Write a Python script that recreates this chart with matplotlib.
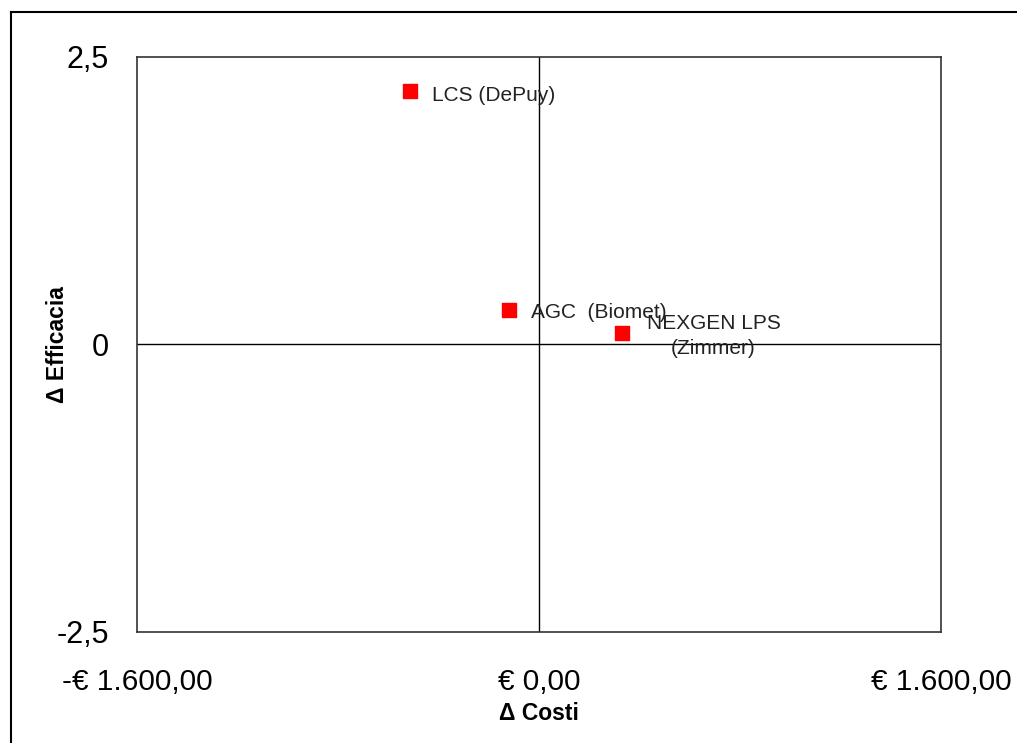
import matplotlib

matplotlib.use("Agg")
import matplotlib.pyplot as plt
from matplotlib.lines import Line2D

plt.rcParams["font.family"] = ["Liberation Sans", "DejaVu Sans"]

# data
devices = ["LCS (DePuy)", "AGC  (Biomet)", "NEXGEN LPS\n(Zimmer)"]
delta_cost = [-513, -120, 330]
delta_efficacy = [2.2, 0.3, 0.1]

x_ticks = [-1600, 0, 1600]
x_tick_labels = ["-€ 1.600,00", "€ 0,00", "€ 1.600,00"]
y_ticks = [-2.5, 0, 2.5]
y_tick_labels = ["-2,5", "0", "2,5"]

fig = plt.figure(figsize=(10.17, 7.43), dpi=100)
ax = fig.add_axes([0.1347, 0.1494, 0.7906, 0.7739])

ax.axhline(0, color="black", lw=1)
ax.axvline(0, color="black", lw=1)
ax.scatter(delta_cost, delta_efficacy, marker="s", s=95, color="#ff0000", zorder=3)

# label offsets in points, mimicking the original placement
offsets = [(16, -3, "left"), (16, -2, "left"), (66, -2, "center")]
for name, x, y, (dx, dy, ha) in zip(devices, delta_cost, delta_efficacy, offsets):
    ax.annotate(name, (x, y), xytext=(dx, dy), textcoords="offset points",
                ha=ha, va="center", fontsize=15, color="#222222", linespacing=1.4)

ax.set_xlim(-1600, 1600)
ax.set_ylim(-2.5, 2.5)
ax.set_xticks(x_ticks)
ax.set_xticklabels(x_tick_labels)
ax.set_yticks(y_ticks)
ax.set_yticklabels(y_tick_labels)
ax.tick_params(axis="x", length=0, pad=26, labelsize=21.5)
ax.tick_params(axis="y", length=0, pad=20, labelsize=22)
ax.set_xlabel("Δ Costi", fontsize=16.5, fontweight="bold")
ax.set_ylabel("Δ Efficacia", fontsize=16.5, fontweight="bold")
ax.xaxis.set_label_coords(0.5, -0.122)
ax.yaxis.set_label_coords(-0.085, 0.5)
for s in ax.spines.values():
    s.set_color("#333333")
    s.set_linewidth(1.2)

# outer chart-area frame (top and left edges visible)
W, H = 1017, 743
fig.add_artist(Line2D([11 / W, 1], [1 - 12 / H, 1 - 12 / H], color="black", lw=1.5,
                      transform=fig.transFigure))
fig.add_artist(Line2D([11 / W, 11 / W], [0, 1 - 12 / H], color="black", lw=1.5,
                      transform=fig.transFigure))

fig.savefig("out.png", dpi=100)
